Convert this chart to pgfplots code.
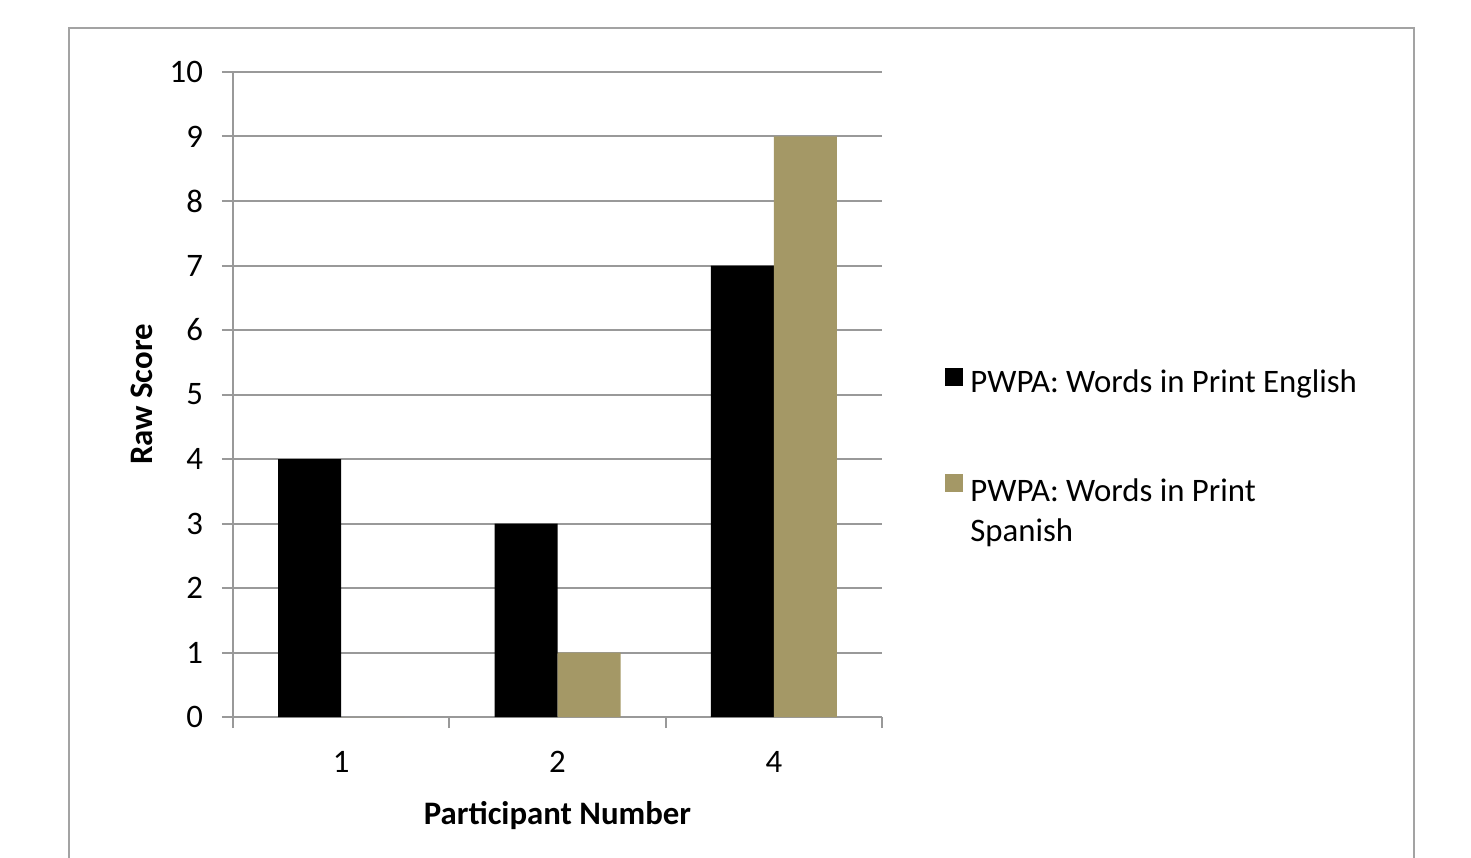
\documentclass[border=0pt]{standalone}
\usepackage{pgfplots}
\pgfplotsset{compat=1.18}
\usepackage{fontspec}
\setmainfont{Carlito}
\definecolor{wipgold}{RGB}{164,152,102}
\definecolor{gridgray}{RGB}{153,153,153}
\definecolor{framegray}{RGB}{163,163,163}

\begin{document}
\begin{tikzpicture}[x=1pt,y=1pt]
\useasboundingbox (-116.5,-70) rectangle (619,358.5);
% chart frame, its lower edge lies below the page
\draw[framegray, line width=1.4pt] (-82,-95) rectangle (590.5,344.5);
\begin{axis}[
  at={(0,0)}, anchor=south west,
  scale only axis, width=324.5pt, height=322.5pt,
  ybar=0pt, bar width=31.5pt,
  xmin=-0.5, xmax=2.5, ymin=0, ymax=10,
  ytick={0,...,10},
  xtick={-0.5,0.5,1.5,2.5}, xticklabels={},
  extra x ticks={0,1,2}, extra x tick labels={1,2,4},
  extra x tick style={major tick length=0pt,
    xticklabel style={yshift=-13.5pt}},
  yticklabel style={xshift=-6pt},
  axis x line*=bottom, axis y line*=left,
  axis line style={gridgray, line width=1pt, -},
  tick style={gridgray, line width=1pt},
  tick align=outside, major tick length=5.5pt,
  ymajorgrids, grid style={gridgray, line width=1pt},
  font=\fontsize{16.4}{20}\selectfont,
  /pgf/number format/assume math mode=true,
  xlabel={\bfseries Participant Number},
  ylabel={\bfseries Raw Score},
  xlabel style={at={(axis description cs:0.5,-0.1535)}, anchor=center},
  ylabel style={at={(axis description cs:-0.1402,0.5)}, anchor=center},
  legend cell align=left,
  % square swatch with a little blank space to its right
  legend image code/.code={\fill[#1] (0pt,-1.5pt) rectangle (9pt,7.5pt);
                           \path (10.5pt,0pt);},
  legend style={draw=none, fill=none, inner sep=0pt,
    at={(rel axis cs:1.097,0.545)}, anchor=north west,
    nodes={font=\fontsize{16.4}{20}\selectfont},
    row sep=35pt},
]
\addplot[fill=black, draw=none] coordinates {(0,4) (1,3) (2,7)};
\addlegendentry{PWPA: Words in Print English}
\addplot[fill=wipgold, draw=none] coordinates {(0,0) (1,1) (2,9)};
\addlegendentry{\begin{tabular}[t]{@{}l@{}}PWPA: Words in Print\\Spanish\end{tabular}}
\end{axis}
\end{tikzpicture}
\end{document}
